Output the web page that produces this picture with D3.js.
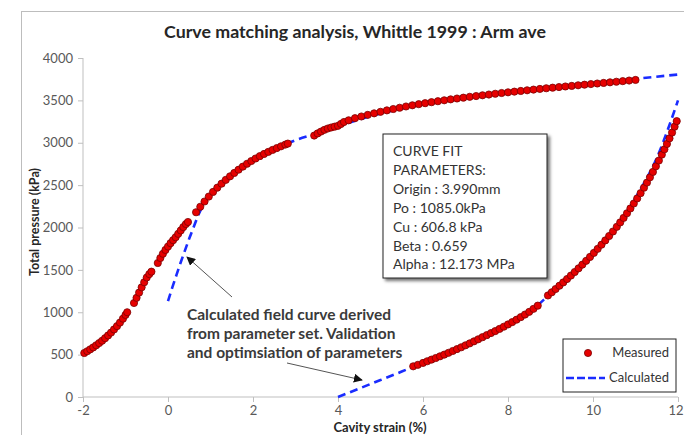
<!DOCTYPE html>
<html>
<head>
<meta charset="utf-8">
<script src="https://cdn.jsdelivr.net/npm/d3@7"></script>
<style>
    body { margin: 0; background: #fff; }
    text { font-family: Lato, "Open Sans", sans-serif; }
</style>
</head>
<body>
<div class="curveChart"></div>
<script>
// measured points, loading branch (strain %, pressure kPa)
var loadX = [-1.97,-1.90,-1.83,-1.76,-1.69,-1.62,-1.55,-1.48,-1.41,-1.34,-1.27,-1.20,-1.13,-1.06,-1.00,-0.96,
    -0.80,-0.74,-0.68,-0.62,-0.56,-0.50,-0.44,-0.39,
    -0.24,-0.18,-0.12,-0.06,0.00,0.06,0.12,0.18,0.24,0.30,0.36,0.42,0.47,
    0.66,0.76,0.86,0.96,1.06,1.16,1.26,1.36,1.46,1.56,1.66,1.76,1.86,1.96,2.06,2.16,2.26,2.36,2.46,2.56,2.66,2.76,2.82,
    3.44,3.52,3.60,3.68,3.76,3.84,3.92,4.00,4.07,4.14,
    4.25,4.40,4.55,4.70,4.85,5.00,5.15,5.30,5.45,5.60,5.75,5.90,6.05,6.20,6.35,6.50,6.65,6.80,6.95,7.10,7.25,7.40,7.55,7.70,7.85,
    8.00,8.15,8.30,8.45,8.60,8.75,8.90,9.05,9.20,9.35,9.50,9.65,9.80,9.95,10.10,10.25,10.40,10.55,10.70,10.85,11.00];
var loadY = [519,540,562,585,610,636,664,694,726,760,797,836,878,924,968,1000,
    1109,1170,1232,1294,1354,1410,1450,1479,
    1581,1640,1690,1735,1775,1815,1850,1885,1925,1965,2005,2040,2065,
    2180,2245,2307,2365,2420,2470,2517,2562,2604,2644,2682,2718,2752,2784,2814,2842,2868,2892,2915,2937,2958,2978,2990,
    3085,3110,3132,3152,3168,3180,3190,3200,3222,3245,
    3265,3290,3310,3329,3347,3365,3382,3398,3413,3428,3442,3455,3467,3479,3490,3501,3512,3522,3532,3542,3551,3560,3569,3578,3587,
    3595,3603,3611,3619,3627,3635,3643,3650,3657,3664,3671,3678,3685,3692,3699,3706,3713,3720,3727,3734,3741];

// measured points, unloading branch
var unloadX = [5.77,5.88,6.00,6.10,6.20,6.30,6.40,6.50,6.60,6.70,6.80,6.90,7.00,7.10,7.20,7.30,7.40,7.50,7.60,7.70,7.80,7.90,
    8.00,8.10,8.20,8.30,8.40,8.50,8.60,8.70,
    8.94,9.03,9.12,9.21,9.30,9.39,9.48,9.57,9.66,9.75,9.84,9.93,10.02,10.11,10.20,10.29,10.38,10.47,10.56,10.64,10.72,10.80,
    10.88,10.96,11.04,11.12,11.20,11.27,11.34,11.41,11.48,11.55,11.62,11.68,11.74,11.80,11.86,11.92,11.97];
var unloadY = [362,380,402,422,441,460,480,500,521,543,565,587,610,633,657,681,706,730,754,778,803,829,
    856,884,912,942,973,1005,1040,1078,
    1198,1236,1274,1313,1352,1392,1433,1475,1518,1562,1607,1653,1700,1748,1797,1848,1900,1953,2008,2060,2113,2168,
    2225,2283,2343,2405,2470,2530,2592,2656,2722,2790,2860,2922,2986,3052,3120,3190,3255];

// calculated field curves
var calcLoadX = [0.00,0.10,0.20,0.30,0.40,0.50,0.60,0.70,0.80,1.00,1.50,2.00,2.50,3.00,3.50,4.00,5.00,6.00,7.00,8.00,9.00,10.00,11.00,12.00];
var calcLoadY = [1130,1290,1440,1590,1730,1870,2000,2130,2240,2390,2625,2800,2930,3030,3110,3195,3345,3455,3540,3600,3655,3705,3755,3805];
var calcUnloadX = [4.0,4.5,5.0,5.5,6.0,6.5,7.0,7.5,8.0,8.5,9.0,9.5,10.0,10.5,11.0,11.5,12.0];
var calcUnloadY = [0,100,200,300,405,510,615,732,858,1000,1220,1445,1690,1960,2350,2820,3500];

var xTicks = [-2,0,2,4,6,8,10,12];
var yTicks = [0,500,1000,1500,2000,2500,3000,3500,4000];

var paramLines = ["CURVE FIT", "PARAMETERS:", "Origin : 3.990mm", "Po : 1085.0kPa", "Cu : 606.8 kPa", "Beta : 0.659", "Alpha : 12.173 MPa"];
var noteLines = ["Calculated field curve derived", "from parameter set. Validation", "and optimsiation of parameters"];

var width = 684, height = 435;
var margin = {top: 58, left: 83, right: 6, bottom: 38};

var svg = d3.select(".curveChart").append("svg")
    .attr("width", width)
    .attr("height", height);

svg.append("defs").append("marker")
    .attr("id", "arrow")
    .attr("viewBox", "0 0 10 10")
    .attr("refX", 9).attr("refY", 5)
    .attr("markerWidth", 9).attr("markerHeight", 9)
    .attr("markerUnits", "userSpaceOnUse")
    .attr("orient", "auto")
    .append("path")
    .attr("d", "M0,0 L10,5 L0,10 z")
    .attr("fill", "#111");

var shadow = svg.select("defs").append("filter").attr("id", "shadow")
    .attr("x", "-10%").attr("y", "-10%").attr("width", "130%").attr("height", "130%");
shadow.append("feDropShadow").attr("dx", 2.5).attr("dy", 2.5).attr("stdDeviation", 1.5)
    .attr("flood-color", "#000").attr("flood-opacity", 0.55);

// chart frame
svg.append("rect")
    .attr("x", 21.5).attr("y", 11.5)
    .attr("width", 700).attr("height", 500)
    .attr("fill", "none")
    .attr("stroke", "#bdbdbd");

var x = d3.scaleLinear().domain([-2, 12]).range([margin.left, width - margin.right]);
var y = d3.scaleLinear().domain([0, 4000]).range([height - margin.bottom, margin.top]);

// axes
var xAxis = svg.append("g")
    .attr("transform", "translate(0," + y(0) + ")")
    .call(d3.axisBottom(x).tickValues(xTicks).tickSize(5).tickPadding(4).tickFormat(function (d) { return String(d); }));
var yAxis = svg.append("g")
    .attr("transform", "translate(" + x(-2) + ",0)")
    .call(d3.axisLeft(y).tickValues(yTicks).tickSize(5).tickPadding(5).tickFormat(function (d) { return String(d); }));

[xAxis, yAxis].forEach(function (a) {
    a.select(".domain").attr("stroke", "#bfbfbf");
    a.selectAll(".tick line").attr("stroke", "#bfbfbf");
    a.selectAll(".tick text")
        .attr("fill", "#595959")
        .style("font-family", "Lato, sans-serif")
        .style("font-size", "13px");
});
xAxis.select(".domain").attr("d", "M" + x(-2) + ",0H" + x(12));
yAxis.select(".domain").attr("d", "M0," + y(0) + "V" + y(4000));
// last label sits at the window edge, keep it inside
xAxis.selectAll(".tick text").filter(function (d) { return d === 12; })
    .attr("text-anchor", "end").attr("dx", 5);

// titles
svg.append("text")
    .attr("x", 355).attr("y", 38)
    .attr("text-anchor", "middle")
    .attr("fill", "#262626")
    .style("font-size", "17.8px")
    .style("font-weight", "bold")
    .text("Curve matching analysis, Whittle 1999 : Arm ave");

svg.append("text")
    .attr("x", 380).attr("y", 432)
    .attr("text-anchor", "middle")
    .attr("fill", "#262626")
    .style("font-size", "13px")
    .style("font-weight", "bold")
    .text("Cavity strain (%)");

svg.append("text")
    .attr("transform", "translate(39," + 222 + ") rotate(-90)")
    .attr("text-anchor", "middle")
    .attr("fill", "#262626")
    .style("font-size", "12.5px")
    .style("font-weight", "bold")
    .text("Total pressure (kPa)");

// calculated curves
var line = d3.line()
    .x(function (d) { return x(d[0]); })
    .y(function (d) { return y(d[1]); })
    .curve(d3.curveMonotoneX);

[[calcLoadX, calcLoadY], [calcUnloadX, calcUnloadY]].forEach(function (s) {
    svg.append("path")
        .datum(d3.zip(s[0], s[1]))
        .attr("d", line)
        .attr("fill", "none")
        .attr("stroke", "#1a2cff")
        .attr("stroke-width", 2.6)
        .attr("stroke-dasharray", "8,5");
});

// measured points
var measured = d3.zip(loadX, loadY).concat(d3.zip(unloadX, unloadY));
svg.append("g").selectAll("circle")
    .data(measured)
    .enter().append("circle")
    .attr("cx", function (d) { return x(d[0]); })
    .attr("cy", function (d) { return y(d[1]); })
    .attr("r", 3.6)
    .attr("fill", "#e60000")
    .attr("stroke", "#7a0000")
    .attr("stroke-width", 0.8);

// parameter box
var box = svg.append("g").attr("transform", "translate(383,134)");
box.append("rect")
    .attr("width", 164).attr("height", 144)
    .attr("fill", "#fff")
    .attr("stroke", "#222")
    .attr("stroke-width", 1)
    .attr("filter", "url(#shadow)");
box.selectAll("text")
    .data(paramLines)
    .enter().append("text")
    .attr("x", 10)
    .attr("y", function (d, i) { return 22 + i * 18.9; })
    .attr("fill", "#333")
    .style("font-size", "14px")
    .text(function (d) { return d; });

// annotation
svg.append("g").selectAll("text")
    .data(noteLines)
    .enter().append("text")
    .attr("x", 187)
    .attr("y", function (d, i) { return 320 + i * 19; })
    .attr("fill", "#3a3a3a")
    .style("font-size", "15.5px")
    .style("font-weight", "bold")
    .text(function (d) { return d; });

svg.append("line")
    .attr("x1", 232).attr("y1", 297).attr("x2", 187).attr("y2", 257)
    .attr("stroke", "#555").attr("stroke-width", 1)
    .attr("marker-end", "url(#arrow)");
svg.append("line")
    .attr("x1", 287).attr("y1", 363).attr("x2", 362).attr("y2", 380)
    .attr("stroke", "#555").attr("stroke-width", 1)
    .attr("marker-end", "url(#arrow)");

// legend
var legend = svg.append("g").attr("transform", "translate(563,339)");
legend.append("rect")
    .attr("width", 113).attr("height", 53)
    .attr("fill", "#fff")
    .attr("stroke", "#222");
legend.append("circle")
    .attr("cx", 25).attr("cy", 14).attr("r", 3.6)
    .attr("fill", "#e60000").attr("stroke", "#7a0000").attr("stroke-width", 0.8);
legend.append("line")
    .attr("x1", 3).attr("x2", 42).attr("y1", 39).attr("y2", 39)
    .attr("stroke", "#1a2cff").attr("stroke-width", 2.6).attr("stroke-dasharray", "8,3");
legend.selectAll(".lab")
    .data(["Measured", "Calculated"])
    .enter().append("text")
    .attr("class", "lab")
    .attr("x", 106)
    .attr("y", function (d, i) { return 18 + i * 25; })
    .attr("text-anchor", "end")
    .attr("fill", "#333")
    .style("font-size", "13px")
    .text(function (d) { return d; });
</script>
</body>
</html>
